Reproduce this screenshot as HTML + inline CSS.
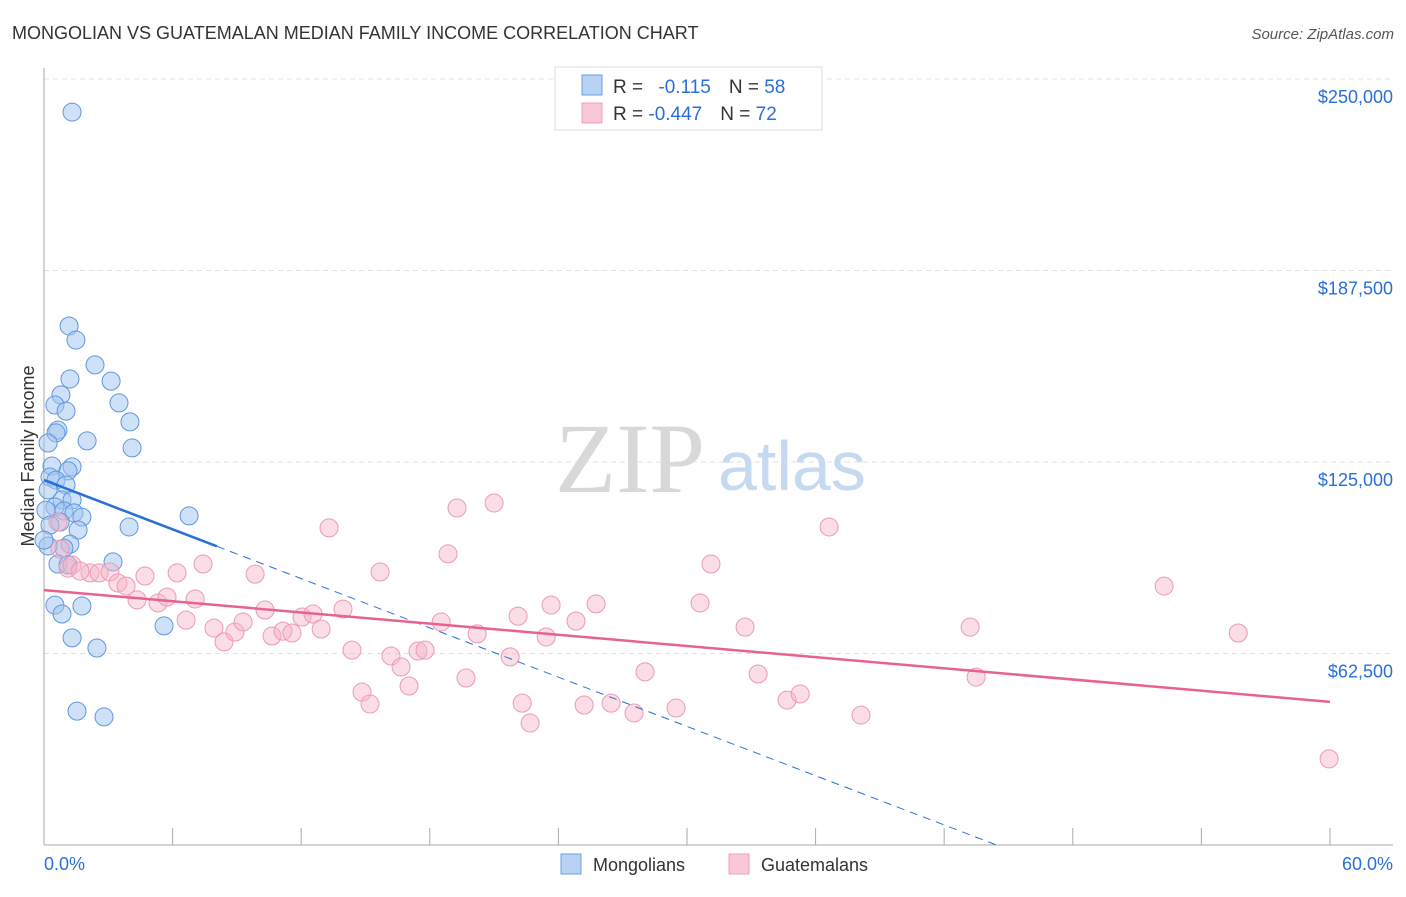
<!DOCTYPE html>
<html><head><meta charset="utf-8"><style>
body{margin:0;background:#fff;font-family:"Liberation Sans",sans-serif}
svg text{font-family:"Liberation Sans",sans-serif}
</style></head><body>
<svg id="chart" width="1406" height="892" xmlns="http://www.w3.org/2000/svg">
<text x="12" y="39" font-size="18" fill="#333">MONGOLIAN VS GUATEMALAN MEDIAN FAMILY INCOME CORRELATION CHART</text>
<text x="1394" y="39" font-size="15" fill="#555" font-style="italic" text-anchor="end">Source: ZipAtlas.com</text>
<g id="grid"></g>
<text x="555" y="492" font-size="100" fill="#d8d8d8" font-family="Liberation Serif" style="font-family:'Liberation Serif',serif">ZIP</text>
<text x="718" y="490" font-size="70" fill="#c5d9f0">atlas</text>
<g id="marks"></g>
<text x="34" y="456" font-size="18" fill="#333" transform="rotate(-90 34 456)" text-anchor="middle">Median Family Income</text>
<g>
<rect x="555" y="67" width="267" height="63" fill="#fff" stroke="#ddd"/>
<rect x="582" y="75" width="20" height="20" fill="#b8d2f4" stroke="#6a9fe0"/>
<rect x="582" y="103" width="20" height="20" fill="#f8c8d6" stroke="#eea0b8"/>
<text x="613" y="93" font-size="19" fill="#333">R = <tspan fill="#2a6fd8" dx="10">-0.115</tspan><tspan dx="18" fill="#333">N = </tspan><tspan fill="#2a6fd8">58</tspan></text>
<text x="613" y="120" font-size="19" fill="#333">R = <tspan fill="#2a6fd8">-0.447</tspan><tspan dx="18" fill="#333">N = </tspan><tspan fill="#2a6fd8">72</tspan></text>
</g>
<g>
<rect x="561" y="854" width="20" height="20" fill="#b8d2f4" stroke="#6a9fe0"/>
<text x="593" y="871" font-size="18" fill="#333">Mongolians</text>
<rect x="729" y="854" width="20" height="20" fill="#f8c8d6" stroke="#eea0b8"/>
<text x="761" y="871" font-size="18" fill="#333">Guatemalans</text>
</g>
<text x="44" y="870" font-size="18" fill="#2a6fd8">0.0%</text>
<text x="1393" y="870" font-size="18" fill="#2a6fd8" text-anchor="end">60.0%</text>
</svg>
<script>
const yTicks=[250000,187500,125000,62500];
const yTickLabels=["$250,000","$187,500","$125,000","$62,500"];
const xTicks=[0,6,12,18,24,30,36,42,48,54,60];
const blueX=[1.31,1.17,1.49,2.38,3.13,1.21,0.79,3.50,0.51,1.03,4.01,0.65,0.56,2.01,4.11,0.19,0.37,1.31,1.12,0.28,0.56,1.03,0.19,0.84,1.31,0.51,0.93,1.40,1.77,0.09,0.75,3.97,6.77,1.59,1.21,0.93,0.19,3.22,0.65,1.12,0.51,1.77,0.84,1.31,5.60,2.47,1.54,2.80,0.28,0.0];
const blueY=[239.2,169.4,164.8,156.7,151.4,152.1,146.9,144.3,143.6,141.6,138.1,135.4,134.5,131.9,129.6,131.2,123.7,123.4,122.1,120.1,119.1,117.5,115.9,112.6,112.6,110.3,109.0,108.4,107.0,109.3,105.4,103.8,107.4,102.8,98.2,96.9,97.6,92.4,91.7,91.4,78.3,78.0,75.4,67.6,71.5,64.3,43.7,41.8,104.4,99.5];
const pinkX=[0.65,0.75,1.12,1.31,2.15,1.68,2.57,3.08,3.45,3.83,4.34,4.71,5.32,5.74,6.21,6.63,7.05,7.42,7.93,8.40,8.91,9.29,9.85,10.31,10.64,11.15,11.57,12.04,12.55,12.93,13.30,13.95,14.37,14.84,15.21,15.68,16.19,16.66,17.03,17.45,17.78,18.53,18.85,19.27,19.69,20.21,21.0,21.75,22.12,22.31,22.68,23.43,23.66,24.82,25.20,25.76,26.46,27.53,28.04,29.49,30.61,31.12,32.71,33.32,34.67,35.28,36.63,38.12,43.21,43.49,52.26,55.72,59.96];
const pinkY=[105.4,96.6,90.4,91.4,88.8,89.4,88.8,89.1,85.5,84.5,80.0,87.8,79.0,80.9,88.8,73.4,80.3,91.7,70.8,66.3,69.5,72.8,88.4,76.7,68.2,69.8,69.2,74.4,75.4,70.5,103.5,77.0,63.6,49.9,46.0,89.1,61.7,58.1,51.9,63.3,63.6,72.8,95.0,110.0,54.5,68.9,111.6,61.4,74.7,46.3,39.8,67.9,78.3,73.1,45.7,78.7,46.3,43.1,56.5,44.7,79.0,91.7,71.1,55.8,47.3,49.3,103.8,42.4,71.1,54.8,84.5,69.2,28.1];
const blueTrend=[119.1,-2.68];
const pinkTrend=[83.2,-0.608];
const NS='http://www.w3.org/2000/svg';
const X=v=>44+v*21.433;
const Y=k=>845-k*1000*0.003064;
function mk(t,a,p){const e=document.createElementNS(NS,t);for(const k in a)e.setAttribute(k,a[k]);p.appendChild(e);return e;}
const grid=document.getElementById('grid'),marks=document.getElementById('marks');
yTicks.forEach((v,i)=>{
 const l=mk('line',{x1:44,x2:1393,y1:Y(v/1000),y2:Y(v/1000),stroke:'#e0e0e0','stroke-dasharray':'5,4'},grid);
 
 
 const t=mk('text',{x:1393,y:Y(v/1000)+24,'font-size':18,fill:'#2a6fd8','text-anchor':'end'},grid);
 t.textContent=yTickLabels[i];
 
 
});
const ax=mk('line',{x1:44,x2:1393,y1:845,y2:845,stroke:'#aaa'},grid);


const ay=mk('line',{x1:44,x2:44,y1:68,y2:845,stroke:'#aaa'},grid);


xTicks.forEach(v=>{const t=mk('line',{x1:X(v),x2:X(v),y1:828,y2:845,stroke:'#aaa'},grid);
 
 });
blueX.forEach((x,i)=>{const c=mk('circle',{cx:X(x),cy:Y(blueY[i]),r:9,fill:'rgba(160,196,240,0.5)',stroke:'#5f97de','stroke-width':1},marks);
 
 });
pinkX.forEach((x,i)=>{const c=mk('circle',{cx:X(x),cy:Y(pinkY[i]),r:9,fill:'rgba(246,180,200,0.45)',stroke:'#eb9ab5','stroke-width':1},marks);
 
 });
const bz=-blueTrend[0]/blueTrend[1];
const b1=mk('line',{x1:X(0),y1:Y(blueTrend[0]),x2:X(8.07),y2:Y(blueTrend[0]+blueTrend[1]*8.07),stroke:'#2a6fd8','stroke-width':2.5},marks);


const b2=mk('line',{x1:X(8.07),y1:Y(blueTrend[0]+blueTrend[1]*8.07),x2:X(bz),y2:Y(0),stroke:'#2a6fd8','stroke-width':1,'stroke-dasharray':'8,6'},marks);


const p1=mk('line',{x1:X(0),y1:Y(pinkTrend[0]),x2:X(60),y2:Y(pinkTrend[0]+pinkTrend[1]*60),stroke:'#e8628f','stroke-width':2.5},marks);


</script>
</body></html>
